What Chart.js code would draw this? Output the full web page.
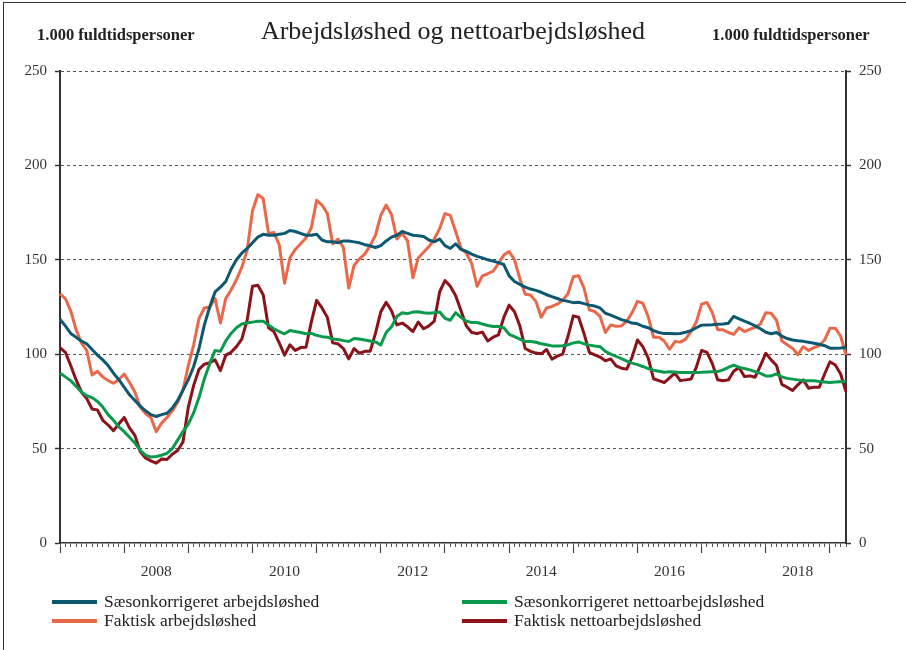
<!DOCTYPE html>
<html>
<head>
<meta charset="utf-8">
<title>Arbejdsløshed og nettoarbejdsløshed</title>
<script src="https://cdn.jsdelivr.net/npm/chart.js@4.4.0/dist/chart.umd.min.js"></script>
<style>
  html, body { margin: 0; padding: 0; background: #fff; }
  #wrap { position: relative; width: 906px; height: 650px; font-family: "Liberation Serif", "DejaVu Serif", serif; color: #222; overflow: hidden; }
  #frame { position: absolute; left: 3px; top: 2px; right: -5px; bottom: -5px; border-top: 1.5px solid #333; border-left: 1.5px solid #333; }
  #chart { position: absolute; left: 0; top: 0; }
  #title { position: absolute; top: 16px; left: 0; width: 906px; text-align: center; font-size: 26px; }
  .unit { position: absolute; top: 25px; font-size: 16.5px; font-weight: bold; }
  .item { position: absolute; font-size: 17.5px; white-space: nowrap; line-height: 18px; }
  .item .sw { display: inline-block; width: 45px; height: 4px; vertical-align: middle; margin-right: 7px; position: relative; top: -1px; }
</style>
</head>
<body>
<div id="wrap">
  <div id="frame"></div>
  <canvas id="chart" width="906" height="650"></canvas>
  <div id="title">Arbejdsløshed og nettoarbejdsløshed</div>
  <div class="unit" style="left:37px">1.000 fuldtidspersoner</div>
  <div class="unit" style="left:712px">1.000 fuldtidspersoner</div>
  <div id="legend"></div>
</div>
<script>
// monthly data, January 2007 onwards (1.000 fuldtidspersoner)
const startYear = 2007;
const yearLabels = ['2008', '2010', '2012', '2014', '2016', '2018'];
const yTicks = [0, 50, 100, 150, 200, 250];

const seriesNames = [
  'Sæsonkorrigeret arbejdsløshed',
  'Faktisk arbejdsløshed',
  'Sæsonkorrigeret nettoarbejdsløshed',
  'Faktisk nettoarbejdsløshed'
];
const seriesColors = ['#0d5871', '#e8694a', '#0b9a4c', '#8b1219'];

const saesonLedighed = [
  118.5, 115, 111, 109, 107, 105.5, 102.5, 99.5, 97, 94,
  90, 86.5, 82.5, 78.5, 75.5, 72.5, 70, 68, 67, 68,
  68.7, 71.5, 75.5, 81, 86.5, 93.5, 103, 115.5, 125, 133,
  135.5, 138.5, 145, 150, 153.5, 156, 159, 162, 163.5, 163,
  163, 163.5, 164, 165.5, 165, 164, 163, 163, 163.5, 160.5,
  159.5, 159.5, 159, 160, 160, 159.5, 159, 158, 157.4, 156.5,
  157.5, 160, 162, 163, 165, 164, 163, 162.7, 162.3, 160.5,
  159.5, 161, 157.5, 156, 158.5, 155.5, 154.5, 153, 151.8, 151,
  150, 149.3, 148.5, 147.5, 141.5, 138.5, 137, 135.5, 134.5, 133.8,
  132.8, 131.5, 130.5, 129.5, 128.5, 128, 127.3, 127.5, 126.8, 126,
  125.5, 124.5, 121.7, 120.7, 119.5, 118.3, 117.5, 116.5, 116.1, 114.8,
  114, 112.5, 111.5, 110.9, 111, 110.8, 111, 111.6, 112.5, 114,
  115.4, 115.5, 115.6, 115.8, 116, 116.4, 120, 118.7, 117.5, 116.4,
  115, 113.5, 111.6, 110.8, 111.5, 109.6, 108.3, 107.5, 107.1, 106.8,
  106.3, 105.8, 105.3, 104.5, 103.2, 103.2, 103.3, 103.5
];

const faktiskLedighed = [
  132, 129.5, 123, 113, 106, 102, 89, 91, 88, 86,
  84.6, 86.5, 89.5, 85, 80, 72, 68.5, 66.5, 59, 63.5,
  66.5, 70, 74.5, 81, 94, 105, 119, 124.5, 125, 129.5,
  116.5, 129.5, 134, 139.5, 146, 155, 176, 184.5, 182.5, 164,
  164.5, 158, 137.6, 151, 155.5, 158.5, 161.5, 167, 181.5, 179,
  174.5, 158.5, 161, 156.5, 135, 147, 150.5, 153, 157.5, 163,
  173.5, 179, 174, 161, 164, 160, 140.5, 151, 154, 157,
  161, 166.5, 174.5, 173.5, 165, 156, 153.5, 148, 136, 141.5,
  142.6, 144, 148, 152.5, 154.4, 150, 140, 131.8, 131.4, 128,
  119.6, 124.5, 125.3, 126.5, 128.5, 132, 141, 141.5, 135, 123.5,
  122.6, 120, 111.5, 115.5, 114.8, 115, 117.5, 122, 128, 127,
  120, 109, 109, 107, 102.6, 106.7, 106.4, 108, 112, 117,
  126.5, 127.4, 122, 113, 112.9, 111.5, 110.5, 114, 112, 113.2,
  114.2, 116, 122, 121.7, 118, 107, 105, 103.2, 99.7, 104,
  102, 103.5, 104.6, 107.5, 113.8, 113.8, 109.5, 99.6
];

const saesonNetto = [
  90, 88, 86, 83, 80, 78, 77, 75, 72, 68,
  65, 61.5, 59, 56, 53, 49, 46.5, 45.5, 45.8, 46.5,
  47.5, 50, 54.5, 59, 63, 69, 77, 87, 95, 102,
  101.5, 107, 111, 114, 116, 116.5, 117, 117.5, 117.5, 115.5,
  113.5, 112, 110.8, 112.5, 112, 111.5, 110.8, 111, 110, 109.3,
  109, 108, 107.8, 107.2, 106.7, 108.3, 108, 107.5, 107, 106.5,
  104.9, 111.5, 114.5, 120, 122, 121.5, 122.3, 122.5, 122, 121.7,
  122, 122.3, 119, 118, 122, 119.5, 117.5, 116.8, 116.8, 116,
  115.2, 114.7, 114.7, 114, 110.5, 109.3, 108, 106.7, 106.7, 106.3,
  105.5, 105, 104.4, 104.4, 104.5, 105, 106, 106.5, 105.5, 104.8,
  104.3, 104, 101.5, 100, 98.8, 97.7, 96.3, 95.3, 94.5, 93.5,
  92.4, 91.5, 91, 90.4, 90.7, 90.6, 90.3, 90.3, 90.3, 90.3,
  90.4, 90.6, 90.7, 90.8, 91.7, 93, 94.2, 93, 92.4, 91.7,
  90.8, 89.8, 88.5, 88.5, 89.6, 88, 87.2, 86.8, 86.4, 86,
  85.9, 85.9, 85.6, 85.3, 85, 85.3, 85.4, 85.5
];

const faktiskNetto = [
  103.5, 101, 94, 86.5, 80, 76.5, 71, 70.5, 65, 62.5,
  59.5, 63, 66.5, 61, 57, 48.5, 45, 43.5, 42.3, 44.5,
  44.2, 47, 49, 53.5, 72, 83.5, 92, 94.7, 95.5, 97,
  91.3, 99.5, 101, 104, 108, 118, 136, 136.5, 131.5, 114,
  112, 106, 99.5, 105, 102, 103.5, 103.7, 117, 128.5, 124.5,
  119.5, 106, 105.5, 103, 97.5, 103, 100.5, 101.5, 101.5, 111,
  122.5, 127.5, 123, 115.5, 116.5, 114.5, 112, 117, 113.5, 115,
  117.5, 133, 139, 136, 131, 123, 115, 111.5, 111, 111.7,
  107, 109, 110.2, 119.5, 126, 122.5, 115, 103, 101.5, 100.6,
  100.2, 102.5, 97.4, 99, 100, 109.5, 120.3, 119.6, 111, 101,
  99.7, 98.5, 96.5, 97.5, 93.8, 92.6, 92.1, 98.5, 107.5, 104,
  98, 87, 86, 85, 87.5, 90, 86, 86.4, 86.8, 93,
  102, 101, 95, 86.5, 85.9, 86.4, 91, 93, 88.2, 88.5,
  87.8, 94, 100.5, 97, 94, 84, 82.5, 80.8, 83.8, 86.4,
  82, 82.5, 82.5, 89.5, 96, 94.3, 89.5, 80.2
];

const allSeries = [saesonLedighed, faktiskLedighed, saesonNetto, faktiskNetto];

// month labels for the category axis
const months = saesonLedighed.map((v, i) => {
  const y = startYear + Math.floor(i / 12);
  const m = (i % 12) + 1;
  return y + 'M' + (m < 10 ? '0' + m : m);
});
const lastIndex = months.length - 1;

const serif = '"Liberation Serif", "DejaVu Serif", serif';
const axisColor = '#333';

const datasets = allSeries.map((data, i) => ({
  label: seriesNames[i],
  data: data,
  borderColor: seriesColors[i],
  backgroundColor: seriesColors[i],
  borderWidth: 3,
  pointRadius: 0,
  tension: 0,
  borderJoinStyle: 'round',
  yAxisID: 'y'
}));

const yAxis = (pos) => ({
  position: pos,
  min: 0,
  max: 250,
  afterBuildTicks: (scale) => { scale.ticks = yTicks.map(v => ({ value: v })); },
  afterFit: (scale) => { scale.width = 60; },
  grid: {
    drawOnChartArea: pos === 'left',
    color: (ctx) => (ctx.tick && ctx.tick.value === 0) ? 'rgba(0,0,0,0)' : '#555',
    lineWidth: 1,
    tickLength: 5,
    tickColor: axisColor,
    tickWidth: 1.5
  },
  border: { display: true, color: axisColor, width: 2, dash: [3, 3] },
  ticks: { color: '#333', padding: 8, font: { family: serif, size: 15 } }
});

new Chart(document.getElementById('chart'), {
  type: 'line',
  data: { labels: months, datasets: datasets },
  options: {
    responsive: false,
    animation: false,
    layout: { padding: { top: 71, bottom: 73, left: 0, right: 0 } },
    plugins: { legend: { display: false }, tooltip: { enabled: false } },
    scales: {
      x: {
        type: 'category',
        position: 'bottom',
        weight: 0,
        afterFit: (scale) => { scale.height = 4; },
        grid: { drawOnChartArea: false, tickLength: 4, tickColor: '#555', tickWidth: 1, color: '#555' },
        border: { display: true, color: axisColor, width: 1.5 },
        ticks: { display: false, autoSkip: false }
      },
      xYear: {
        type: 'linear',
        position: 'bottom',
        weight: 1,
        min: 0,
        max: lastIndex,
        afterBuildTicks: (scale) => {
          const t = [];
          for (let v = 0; v <= lastIndex; v += 12) t.push({ value: v });
          scale.ticks = t;
        },
        afterFit: (scale) => { scale.height = 30; },
        grid: { drawOnChartArea: false, tickLength: 6, tickColor: '#444', tickWidth: 1.2, color: '#444' },
        border: { display: false },
        ticks: {
          padding: 10,
          labelOffset: 32,
          maxRotation: 0,
          autoSkip: false,
          color: '#333',
          font: { family: serif, size: 15.5 },
          callback: (value) => {
            const yr = String(startYear + value / 12);
            return yearLabels.includes(yr) ? yr : '';
          }
        }
      },
      y: yAxis('left'),
      y2: yAxis('right')
    }
  }
});

// legend in two columns, drawn as text
const legendSlots = [[52, 592], [52, 611], [462, 592], [462, 611]];
const legendEl = document.getElementById('legend');
seriesNames.forEach((name, i) => {
  const div = document.createElement('div');
  div.className = 'item';
  div.style.left = legendSlots[i][0] + 'px';
  div.style.top = legendSlots[i][1] + 'px';
  div.innerHTML = '<span class="sw" style="background:' + seriesColors[i] + '"></span>' + name;
  legendEl.appendChild(div);
});
</script>
</body>
</html>
